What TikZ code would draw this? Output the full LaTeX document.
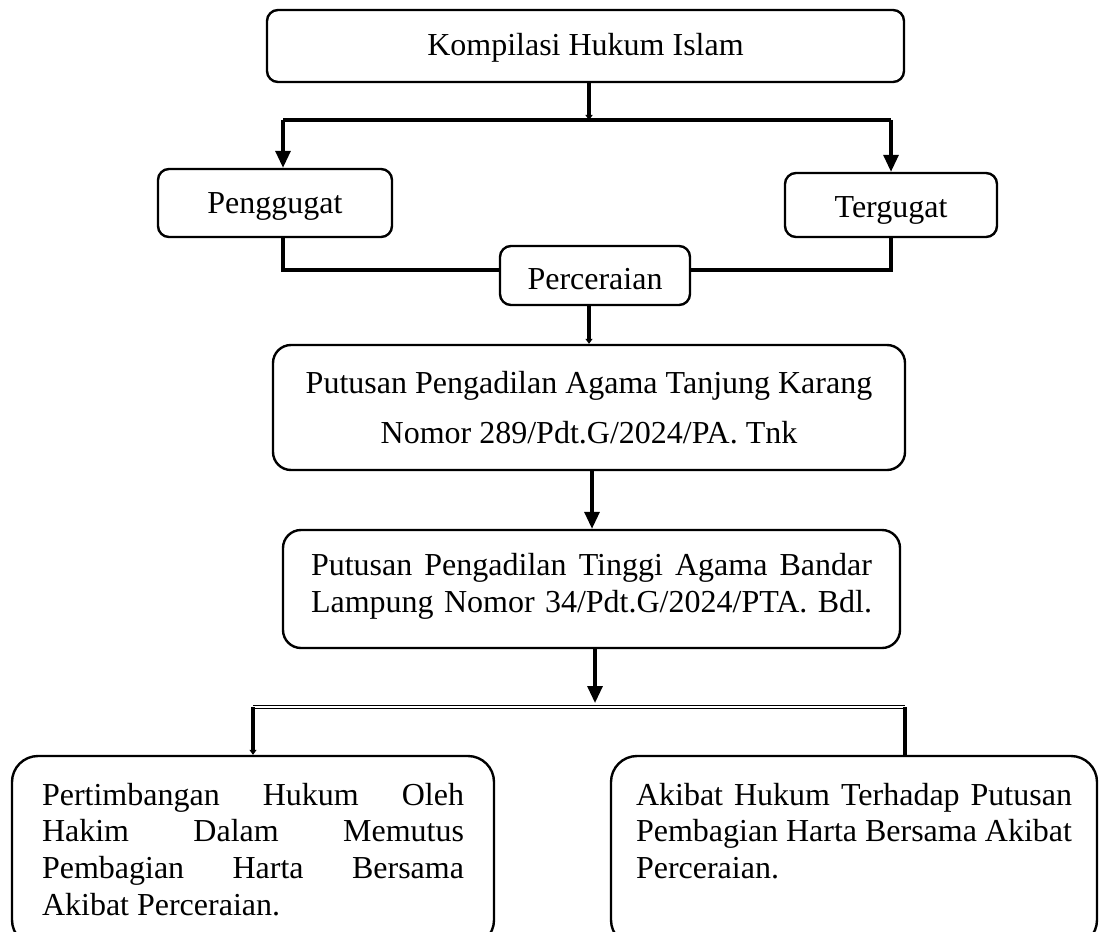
\documentclass[tikz,border=0pt]{standalone}
\usepackage{fontspec}
\setmainfont{Liberation Serif}
\usetikzlibrary{arrows.meta}
\newcommand{\dn}[2]{\raisebox{-#1}[\height][\depth]{#2}}
\begin{document}
\begin{tikzpicture}[x=1pt,y=-1pt,
  box/.style={draw, line width=2.4pt, rounded corners=11pt, inner sep=0pt, font=\fontsize{32}{38}\selectfont},
  conn/.style={line width=3.2pt},
  bigtip/.style={-{Triangle[length=17pt,width=15pt]}},
  smalltip/.style={-{Triangle[length=5pt,width=7pt]}},
]
\useasboundingbox (0,0) rectangle (1099,931);

% boxes
\node[box, minimum width=637pt, minimum height=72pt] (khi) at (585.5,46) {\dn{2pt}{Kompilasi Hukum Islam}};
\node[box, minimum width=234pt, minimum height=68pt] (pg) at (275,203) {\dn{3pt}{Penggugat}};
\node[box, minimum width=212pt, minimum height=64pt] (tg) at (891,205) {\dn{5pt}{Tergugat}};
\node[box, minimum width=190pt, minimum height=59pt] (pc) at (595,275.5) {\dn{4pt}{Perceraian}};
\node[box, rounded corners=18pt] (pa) at (589,407.5)
  {\parbox[c][125pt][t]{632pt}{\fontsize{32}{50}\selectfont\centering
   \rule{0pt}{48pt}Putusan Pengadilan Agama Tanjung Karang\\
   Nomor 289/Pdt.G/2024/PA. Tnk}};
\node[box, rounded corners=18pt] (pta) at (591.5,589)
  {\parbox[c][118pt][t]{617pt}{\fontsize{32}{37}\selectfont\centering
   \rule{0pt}{45pt}\makebox[561pt][s]{Putusan Pengadilan Tinggi Agama Bandar}\\
   \makebox[561pt][s]{Lampung Nomor 34/Pdt.G/2024/PTA. Bdl.}}};
\node[box, rounded corners=26pt] (bl) at (253,851)
  {\parbox[c][190pt][t]{482pt}{\fontsize{32}{36.7}\selectfont\centering
   \rule{0pt}{49pt}\makebox[422pt][s]{Pertimbangan Hukum Oleh}\\
   \makebox[422pt][s]{Hakim Dalam Memutus}\\
   \makebox[422pt][s]{Pembagian Harta Bersama}\\
   \makebox[422pt][l]{Akibat Perceraian.}}};
\node[box, rounded corners=26pt] (br) at (854,851)
  {\parbox[c][190pt][t]{486pt}{\fontsize{32}{36.7}\selectfont\centering
   \rule{0pt}{49pt}\makebox[436pt][s]{Akibat Hukum Terhadap Putusan}\\
   \makebox[436pt][s]{Pembagian Harta Bersama Akibat}\\
   \makebox[436pt][l]{Perceraian.}}};

% junction coordinates
\coordinate (j1) at (589,120);
\coordinate (jl) at (283,120);
\coordinate (jr) at (891,120);
\coordinate (hy) at (0,270);
\coordinate (c2) at (592,0);
\coordinate (c3) at (595,0);
\coordinate (dl) at (253,707);
\coordinate (dr) at (905,707);
\coordinate (dm) at (595,703);

% connectors
\draw[conn, smalltip] (j1 |- khi.south) -- (j1);
\draw[conn, line width=4pt] (jl) -- (jr);
\draw[conn, bigtip] (jl) -- (jl |- pg.north);
\draw[conn, bigtip] (jr) -- (jr |- tg.north);
\draw[conn] (jl |- pg.south) |- (pc.west |- hy);
\draw[conn] (jr |- tg.south) |- (pc.east |- hy);
\draw[conn, smalltip] (j1 |- pc.south) -- (j1 |- pa.north);
\draw[conn, bigtip] (c2 |- pa.south) -- (c2 |- pta.north);
\draw[conn, bigtip] (c3 |- pta.south) -- (dm);
\draw[line width=1.6pt, double, double distance=1.5pt] (dl) -- (dr);
\draw[conn, line width=4pt, smalltip] (dl) -- (dl |- bl.north);
\draw[conn, line width=4pt] (dr) -- (dr |- br.north);
\end{tikzpicture}
\end{document}
